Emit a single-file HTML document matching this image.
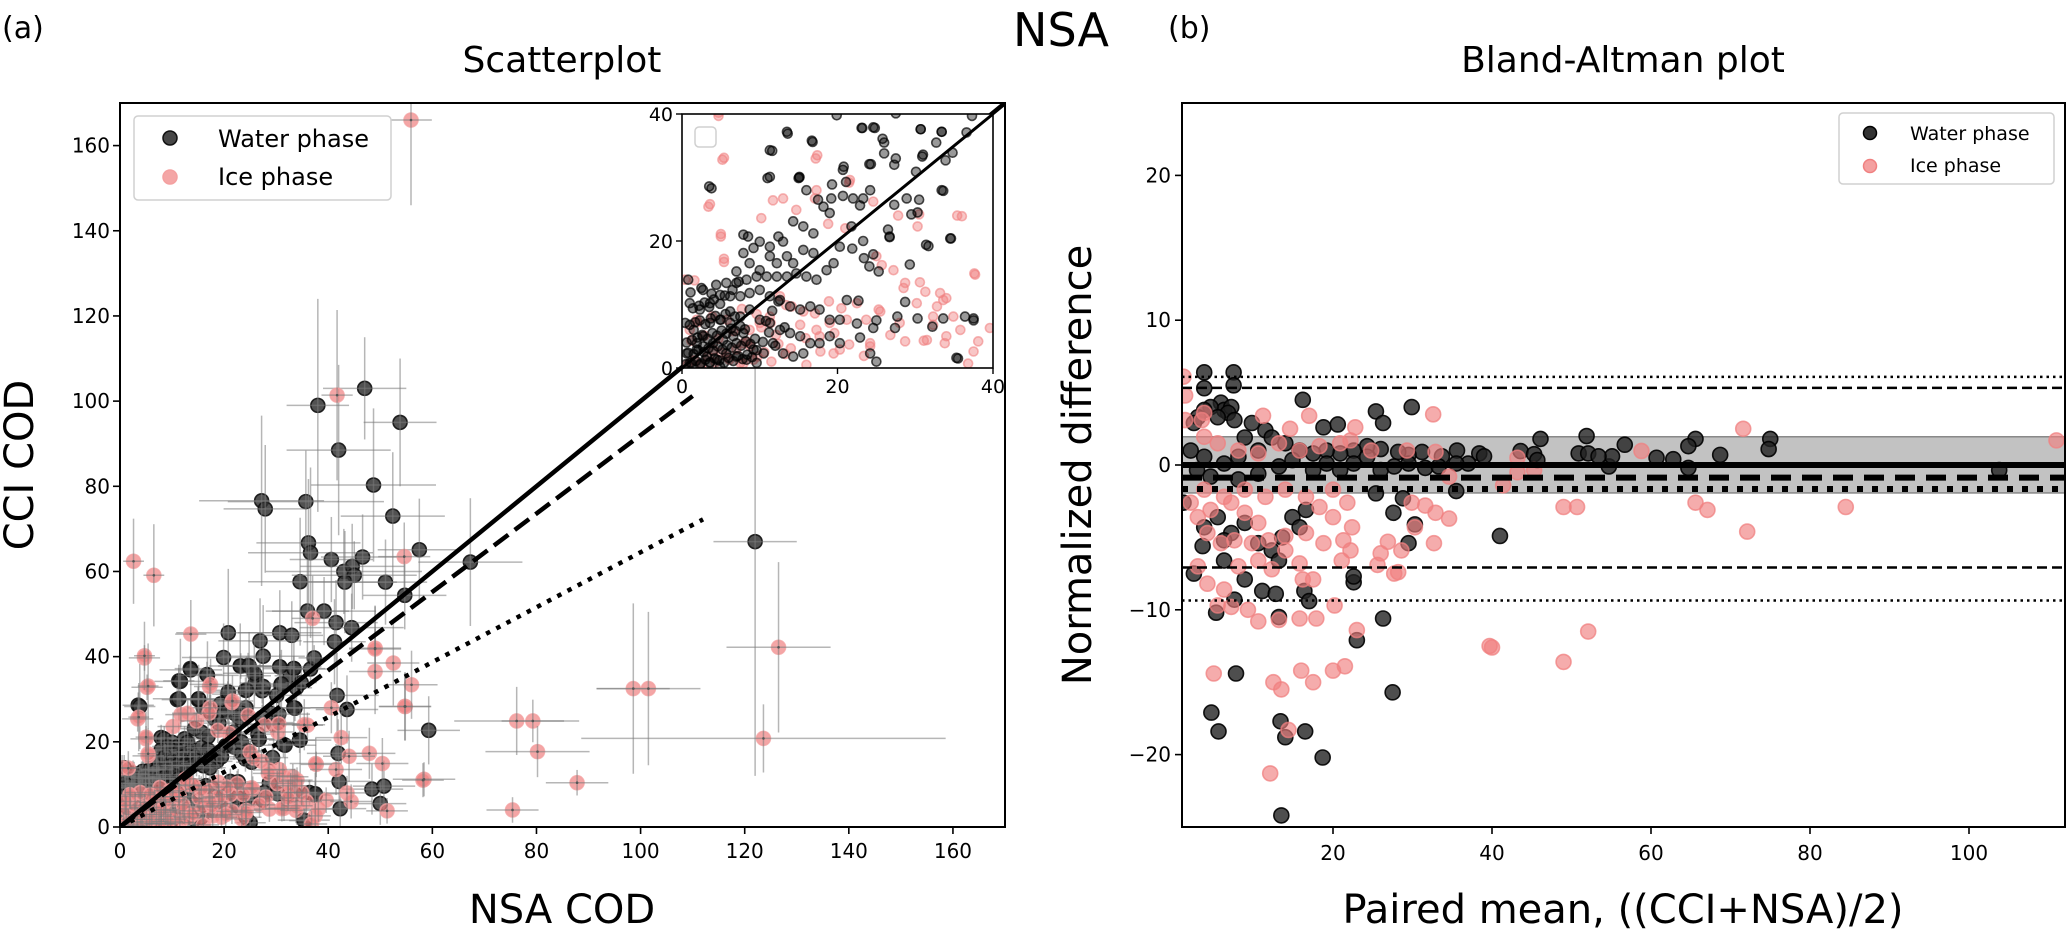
<!DOCTYPE html>
<html><head><meta charset="utf-8"><style>
html,body{margin:0;padding:0;background:#fff;}
svg{display:block;font-family:"DejaVu Sans","Liberation Sans",sans-serif;}
</style></head><body>
<svg id="fig" width="2067" height="931" viewBox="0 0 2067 931" xmlns="http://www.w3.org/2000/svg">
<defs>
<clipPath id="clipMain"><rect x="120" y="103" width="885" height="724"/></clipPath>
<clipPath id="clipInset"><rect x="682" y="114" width="311" height="254"/></clipPath>
<clipPath id="clipBA"><rect x="1182" y="103" width="883" height="724"/></clipPath>
</defs>
<text x="2" y="38" font-size="30">(a)</text>
<text x="1168" y="38" font-size="30">(b)</text>
<text x="1061" y="46" font-size="46" text-anchor="middle">NSA</text>
<text x="562" y="72" font-size="36" text-anchor="middle">Scatterplot</text>
<text x="1623" y="72" font-size="36" text-anchor="middle">Bland-Altman plot</text>
<text x="562" y="923" font-size="40" text-anchor="middle">NSA COD</text>
<text x="1623" y="923" font-size="40" text-anchor="middle">Paired mean, ((CCI+NSA)/2)</text>
<text transform="translate(33,465) rotate(-90)" font-size="40" text-anchor="middle">CCI COD</text>
<text transform="translate(1091,465) rotate(-90)" font-size="40" text-anchor="middle">Normalized difference</text>
<g id="gMain"></g>
<g id="gInset"></g>
<g id="gBA"></g>
</svg>
<script>
// ---- Scatterplot data (main, points with error bars) ----
const mainWaterX=[47,38,42,48.7,53.8,52.4,27.2,27.9,35.7,36.2,36.6,40.6,43,44.6,45,46.6,43.2,57.5,67.3,34.6,51,54.7,36,39.2,41.5,44.5,41.2,20.8,30.7,33,26.9,27.5,19.9,23.1,24.8,13.6,16.8,30.7,33.4,25.8,27.5,11.6,11.3,15.1,41.7,43.6,33.4,20.8,24.3,31,3.8,59.3,34.6,31.7,41.9,42.1,48.4,50.7,50,42.3,37.5,35.3,30.5,29.5,122];
const mainWaterY=[103,99,88.5,80.3,95,73,76.6,74.7,76.4,66.7,64.4,62.8,60,61.2,59.1,63.4,57.5,65.1,62.2,57.6,57.5,54.4,50.7,50.7,48,46.8,43.5,45.6,45.6,45,43.7,40.1,39.8,37.8,37.8,36.9,35.6,37.6,37.2,36.1,33,34.2,30.1,30.1,30.9,27.6,28,31.7,32.1,33.6,28.3,22.7,20.4,19.2,17.3,10.7,8.9,9.6,5.5,4.3,7.8,1.6,26.5,24.2,67];
const mainWaterXErr=[8,6,10,12,7,10,12,8,15,10,12,8,15,10,12,8,10,8,10,10,8,8,8,10,8,10,6,10,8,6,8,8,8,6,6,6,6,8,6,6,6,5,5,5,8,6,6,6,6,6,3,6,6,6,6,6,6,6,5,5,5,5,6,6,8];
const mainWaterYErr=[12,25,20,18,15,15,20,15,12,15,20,10,10,10,8,10,12,12,15,15,10,8,12,8,10,8,10,15,10,8,10,12,8,10,8,10,8,10,8,8,8,10,8,8,10,8,8,8,8,8,10,8,8,8,8,6,6,6,5,5,5,3,8,8,55];
const mainIceX=[2.6,6.5,41.7,54.6,13.6,4.7,5.4,3.6,5,5.4,37,49,49,52.5,56,54.8,58.4,47.9,50.4,42.5,44,41.5,51.3,37.6,43.6,44.4,40.6,35.4,17.4,21.6,1.6,30.5,76.2,79.3,80.2,87.8,75.4,98.6,101.5,123.6,126.5,55.9,58.2,49,54.7];
const mainIceY=[62.4,59.1,101.4,63.5,45.3,40.2,33.1,25.8,21.1,17.2,49,42,36.5,38.5,33.4,28.3,11.2,17.3,14.9,21,16.6,13.5,3.8,14.9,8,6,28,24,33.5,29.6,13.8,24.2,24.9,24.9,17.7,10.4,4,32.5,32.5,20.8,42.2,166,11,41.8,28.3];
const mainIceXErr=[2,2,3,5,3,2,2,2,2,2,4,5,5,5,5,5,6,5,5,5,5,5,4,5,4,4,4,4,4,4,2,4,12,6,10,6,5,7,10,35,10,4,4,5,5];
const mainIceYErr=[10,12,20,8,8,8,10,8,6,6,10,10,10,10,8,8,4,6,6,6,6,6,3,6,4,4,6,6,6,6,4,6,8,5,6,3,3,20,18,8,20,20,4,10,8];
// ---- Low-range cluster (shown in main plot and inset) ----
const clusterWaterX=[13.5,16.7,11.3,3.5,11,15.1,23.2,24.6,26,26,27.3,30.7,33.4,32.7,33.9,34.8,36.6,37.3,30.9,30.1,28.9,30.3,33.6,34.5,31.4,29.3,26.7,27.3,24.2,24.1,20.7,21.1,19.3,19.2,20.7,22,23.3,22.9,21.8,20.3,21.9,23.4,24.1,25.3,24.6,23.3,26.5,26.7,28.7,30.3,33.6,36.4,37.5,32.2,35.5,27.7,27.4,25,24.6,22.9,25,24.2,22.5,21.2,22.7,7.9,8.5,10,11.3,12.4,13,14.3,15.6,16.9,18.2,19,16,17.5,15,7.9,9.2,7,8.7,10,11.3,12.2,13.5,14.3,15.6,16.9,18.6,19.5,5.7,7,8.3,9.6,10.9,12.2,13.5,14.7,16,17.3,2.7,3.6,4.9,2.3,1,0.8,6.2,7.5,8.7,10,11.3,12.6,13.9,15.2,16.5,17.7,19,20.3,3.6,4.9,6.2,7.5,8.7,10,11.3,12.6,13.9,15.2,16.5,17.7,19,20.3,1.5,2.7,4,5.3,6.6,7.9,9.2,10.5,11.7,13,14.3,15.6,0.6,1.9,3.2,4.5,5.7,7,8.3,9.6,1,2.3,3.6,4.9,0.4,1.9,2.7];
const clusterWaterY=[37.2,35.8,34.3,28.6,29.9,30,37.8,37.9,35.5,33.8,32,37.6,37.2,35.5,32.7,33.9,37.1,39.7,33.3,30.9,26.7,24.5,27.9,20.4,19.4,16.3,20.7,25.7,28,32.1,31.2,29.3,28.9,26.7,27.1,26.7,26.7,25.6,22.3,19.1,18.8,17.3,16,15.2,17.9,20,21.8,20.6,10.4,7.8,7.8,8.1,7.5,6.5,1.5,8.1,6.3,7.5,6.3,4.8,1,2.3,7,10.7,10.6,21,20.7,19.9,19.1,20.7,19.9,23.1,22.3,21.2,25.4,24.4,28,26.5,29.9,18.1,18.9,15.2,16.5,15.4,17.6,16.5,17.6,16.5,18.6,18.1,15.4,16.5,13.4,13.4,13.9,14.4,14.4,14.4,14.4,14.9,14.4,13.9,12.3,10.2,11.5,9.2,10.2,13.9,11.3,11.3,11.8,12.3,11.3,10.7,9.7,9.2,9.7,9.2,7.6,7.6,7.1,7.6,7.1,8.1,9.2,7.6,7.1,6,5.5,5,3.9,3.9,5,3.9,6,5,3.9,4.4,5,5.5,2.9,2.3,3.9,2.3,1.8,2.3,2.3,2.9,1.8,1.3,2.3,1.8,1.3,0.8,0.8,0.5,0.8,0.2,7.1,3.9,3.4];
// dense core near the origin
const coreWaterX=[0.5,1.2,1.8,2.4,3,3.6,4.2,4.8,5.4,6,6.6,7.2,7.8,8.4,9,0.8,1.5,2.1,2.8,3.4,4,4.6,5.2,5.8,6.4,7,7.6,8.2,8.8,9.4,0.6,1.3,2,2.6,3.3,3.9,4.5,5.1,5.7,6.3,6.9,7.5,8.1,1,1.7,2.3,3,3.7,4.3,5,5.6,6.2,6.8,1.4,2.2,2.9,3.5,4.1,4.9,5.5,1.1,2.5,3.8,4.4,6.5,7.3,9.6,10.4,11.2,12,10.8,11.6,12.4,13.2];
const coreWaterY=[0.6,0.8,1.1,0.7,1.3,0.9,1.5,1.2,0.8,1.6,1.1,1.9,1.4,2.1,1.7,2.4,2.2,2.8,2.5,3.1,2.7,3.4,2.9,3.6,3.2,3.9,3.5,4.2,3.8,4.6,4,4.4,4.8,5.2,4.6,5.5,5.1,5.9,5.4,6.2,5.8,6.6,6.1,6.8,7.2,7.5,6.9,7.8,8.2,7.6,8.5,8.9,8.1,9.4,9.8,10.3,9.6,10.8,10.1,11.4,11.9,12.6,11.7,13.1,12.3,13.6,2.8,4.1,5.6,3.5,7.4,9,10.5,6.4];
const coreIceX=[0.7,1.6,2.5,3.3,4.3,5.1,6.1,7,7.9,8.8,9.7,10.6,11.5,12.4,13.3,1.2,2.9,4.7,6.6,8.4,10.2,12.1,14,15.9,17.8,19.6,21.5,23.4,2,3.9,5.8,7.7,9.6,11.4,13.4,15.2,17.1,18.9];
const coreIceY=[0.5,1.2,0.4,1.8,0.9,2.4,1.3,2.9,0.7,3.4,1.8,2.5,1,3.8,2.2,4.3,5.1,4.6,5.8,4.1,6.4,5.2,3.1,4.7,2.6,5.5,3.7,1.9,7.2,8.1,7.6,9.3,8.5,7.1,9.9,6.8,8.6,10.5];
const clusterIceX=[4.7,5.2,3.4,5,5.4,10.2,11.7,13,14.7,17.2,17.3,17.1,18.8,21,21.5,24.6,27.8,30.3,36,37.7,30.6,31.3,28.7,28.5,27.2,25.7,25,33.2,33.6,34,32.8,34.9,32.3,30.2,31.5,31.1,28.7,28,25.5,25.3,24.2,24.2,26.8,23.7,22.5,21.2,20.5,19,19.5,20.3,16,17.7,17.3,15.6,14.1,12.6,11.3,10,8.7,7.9,9.2,7.5,5.7,4,1.9,0.4,1,34,33.8,35.8,37.5,38.1,39.6,36.8,32.3];
const clusterIceY=[39.7,32.8,25.4,20.7,16.7,23.6,26.4,26.7,24.9,33,28,26.7,22.7,22,29.2,26.2,24,22.3,23.9,14.7,13.5,12,13.4,12.6,15.4,16.2,17.6,11.8,10.7,11,9.7,8.1,8.1,10.2,4.4,4.3,4.2,7.1,8.9,9.2,3.9,3.4,5.2,7.6,10.2,7.6,9.4,7.1,2.3,2.9,0.5,5,6,8.9,9.7,11.3,8.1,7.1,6,3.9,1.3,0.8,1.8,2.9,7.6,13.9,6,5,3.9,6,2.6,4.2,6.3,0.7,6.8];
// ---- Fit lines (slope, intercept, x extent) ----
const fitSlopes=[1,0.92,0.645];
const fitIntercepts=[0,0,0];
const fitXMax=[170,110,112];
// ---- Axis ticks ----
const mainTicks=[0,20,40,60,80,100,120,140,160];
const insetTicks=[0,20,40];
const baXTicks=[20,40,60,80,100];
const baYTicks=[-20,-10,0,10,20];
// ---- Bland-Altman data ----
const baWaterX=[3.8,7.5,7.5,3.8,16.2,25.4,26.3,29.9,5.9,6.3,7.2,6.8,4.6,5.5,7.6,9.8,11.5,3.8,3,2.5,18.8,20.6,46.1,51.9,56.7,65.6,64.7,75,74.8,68.7,60.7,62.8,54.7,55.1,50.9,52.1,53.4,64.7,103.8,43.6,45.3,45.7,38.4,39,37,35.6,33.7,31.2,29.5,28.2,26,24.3,22.6,20.9,19.2,17.5,12.3,14,15.8,10.6,8.9,8.1,6.3,3.8,2.1,2.9,4.6,8.1,10.6,13.2,14.9,17.5,19.2,20.9,22.6,24.3,26,27.7,29.5,31.6,33.3,35.5,1.2,25.4,28.8,35.5,27.6,30.3,41,29.5,22.6,3.6,2.5,5.3,7.6,6.3,8.9,11.1,12.8,13.2,16.4,17,26.3,22.6,23,14.9,15.8,13.6,16.6,5.5,3.8,7.2,10.6,8.9,12.3,13.2,6.3,4.7,5.6,13.4,14,16.5,18.7,13.5,27.5,7.8];
const baWaterY=[6.4,6.4,5.5,5.3,4.5,3.7,2.9,4,4.3,3.8,4,3.6,4,3.3,3.1,2.9,2.4,3.8,3.3,2.9,2.6,2.8,1.8,2,1.4,1.8,1.3,1.8,1.1,0.7,0.5,0.4,-0.1,0.6,0.8,0.8,0.6,-0.2,-0.35,0.96,0.75,0.34,0.8,0.6,0.1,1,0.6,0.9,0.7,0.9,1.1,1.3,1,0.8,1,0.8,1.9,1.5,1,1,1.9,0.57,0.1,0.57,1,-0.35,-0.8,-1,-0.6,-0.1,0.34,-0.35,0.1,-0.35,0.1,0.57,-0.35,-0.1,0.1,-0.2,-0.1,0.1,-2.6,-1.96,-2.3,-1.8,-3.3,-4.1,-4.9,-5.4,-8.1,-5.6,-7.5,-10.2,-9.3,-6.6,-7.9,-8.7,-8.9,-10.5,-8.7,-9.4,-10.6,-7.7,-12.1,-3.6,-4.3,-5,-3.1,-3.6,-4.3,-4.7,-5.4,-4,-5.9,-6.6,-5.2,-17.1,-18.4,-17.7,-18.8,-18.4,-20.2,-24.2,-15.7,-14.4];
const baIceX=[1.2,1.4,3.5,3.8,1.4,11.2,17,32.6,14.6,22.8,71.6,111,58.8,3.8,5.5,8.1,10.6,13.2,15.8,18.3,20.9,22.2,24.8,29.3,32.9,43.2,45.3,43.2,41.4,34.6,49,50.7,65.6,67.1,84.5,72.1,29.9,31.6,32.9,34.6,30.3,26.9,26,28.6,32.7,25.6,27.7,28.2,21.1,22.2,22.4,21.3,16.2,17.5,15.8,17.9,20.2,23,13.2,10.6,9.3,7.2,5.5,6.3,4.2,3,4.2,5.9,7.6,9.8,11.9,14,10.6,8.9,7.2,4.6,3,2.1,3.8,6.3,8.9,11.5,14,16.6,18.3,20,21.8,20,16.6,14,10.6,8.1,12.3,15.8,18.8,39.7,52.1,49,40,13.5,16,17.5,20,21.5,5,12.5,14.4,12.1];
const baIceY=[6.1,4.8,3.1,3.6,3.1,3.4,3.4,3.5,2.5,2.6,2.5,1.7,0.97,1.95,1.5,1,0.8,1.5,1,1.3,1.5,1.7,1,1,0.9,0.5,-0.35,-0.5,-1.4,-0.8,-2.9,-2.9,-2.6,-3.1,-2.9,-4.6,-2.6,-2.8,-3.3,-3.7,-4.3,-5.3,-6.1,-5.9,-5.4,-6.9,-7.5,-7.4,-6.6,-5.9,-4.3,-5.2,-7.9,-7.9,-10.6,-10.6,-9.7,-11.4,-10.7,-10.8,-10,-9.8,-9.7,-8.6,-8.2,-7,-4.7,-5.4,-5.2,-5.4,-5.2,-4.9,-4,-3.3,-2.6,-3.1,-3.6,-2.6,-1.7,-2.2,-1.7,-2.2,-1.7,-2.2,-2.9,-1.7,-2.6,-3.6,-4.7,-5.9,-6.6,-7,-7.2,-6.8,-5.4,-12.5,-11.5,-13.6,-12.6,-15.5,-14.2,-15,-14.2,-13.9,-14.4,-15,-18.3,-21.3];
const baMeanLines=[0,-0.87,-1.66];
const baLoaDashed=[5.33,-7.08];
const baLoaDotted=[6.09,-9.36];
const baBand=[-1.93,1.95];

const NS='http://www.w3.org/2000/svg';
function mk(tag,attrs,parent){const e=document.createElementNS(NS,tag);for(const k in attrs)e.setAttribute(k,attrs[k]);parent.appendChild(e);return e;}
const mX=v=>120+v*(885/170), mY=v=>827-v*(724/170);
const iX=v=>682+v*(311/40), iY=v=>368-v*(254/40);
const bX=v=>1174+v*7.95, bY=v=>465-v*14.48;

const gMain=document.getElementById('gMain');
const gInset=document.getElementById('gInset');
const gBA=document.getElementById('gBA');

const mainClip=mk('g',{'clip-path':'url(#clipMain)'},gMain);


function errBars(xs,ys,xe,ye,parent,nm){
  for(let i=0;i<xs.length;i++){
    const ex=xe?xe[i]:3, ey=ye?ye[i]:3;
    const h=mk('line',{x1:mX(xs[i]-ex),x2:mX(xs[i]+ex),y1:mY(ys[i]),y2:mY(ys[i]),stroke:'#7a7a7a','stroke-opacity':0.55,'stroke-width':1.5},parent);
    
    
    const v=mk('line',{x1:mX(xs[i]),x2:mX(xs[i]),y1:mY(ys[i]-ey),y2:mY(ys[i]+ey),stroke:'#7a7a7a','stroke-opacity':0.55,'stroke-width':1.5},parent);
    
    
  }
}
function dots(xs,ys,sx,sy,r,fill,fo,stroke,so,parent,nm){
  for(let i=0;i<xs.length;i++){
    const c=mk('circle',{cx:sx(xs[i]),cy:sy(ys[i]),r:r,fill:fill,'fill-opacity':fo,stroke:stroke,'stroke-opacity':so,'stroke-width':1.6},parent);
    
    
  }
}
function centers(xs,ys,parent){
  for(let i=0;i<xs.length;i++){
    const c=mk('circle',{cx:mX(xs[i]),cy:mY(ys[i]),r:1.3,fill:'#555'},parent);
    
    
  }
}
dots(coreWaterX,coreWaterY,mX,mY,7,'#333',0.85,'#111',0.9,mainClip,'water-point');
dots(clusterWaterX,clusterWaterY,mX,mY,7,'#333',0.85,'#111',0.9,mainClip,'water-point');
dots(mainWaterX,mainWaterY,mX,mY,7,'#333',0.85,'#111',0.9,mainClip,'water-point');
errBars(coreWaterX,coreWaterY,null,null,mainClip,'water');
errBars(clusterWaterX,clusterWaterY,null,null,mainClip,'water');
errBars(mainWaterX,mainWaterY,mainWaterXErr,mainWaterYErr,mainClip,'water');
dots(coreIceX,coreIceY,mX,mY,7,'#f08080',0.7,'#f4a0a0',0.8,mainClip,'ice-point');
dots(clusterIceX,clusterIceY,mX,mY,7,'#f08080',0.7,'#f4a0a0',0.8,mainClip,'ice-point');
dots(mainIceX,mainIceY,mX,mY,7,'#f08080',0.7,'#f4a0a0',0.8,mainClip,'ice-point');
errBars(coreIceX,coreIceY,null,null,mainClip,'ice');
errBars(clusterIceX,clusterIceY,null,null,mainClip,'ice');
errBars(mainIceX,mainIceY,mainIceXErr,mainIceYErr,mainClip,'ice');
centers(mainIceX,mainIceY,mainClip);
const fitStyles=[{w:4.5,d:''},{w:4.5,d:'18,8'},{w:4.5,d:'4.5,7'}];
const fitNames=['one-to-one-line','regression-line-dashed','regression-line-dotted'];
for(let k=0;k<fitSlopes.length;k++){
  const ln=mk('line',{x1:mX(0),y1:mY(fitIntercepts[k]),x2:mX(fitXMax[k]),y2:mY(fitIntercepts[k]+fitSlopes[k]*fitXMax[k]),stroke:'#000','stroke-width':fitStyles[k].w,'stroke-dasharray':fitStyles[k].d},mainClip);
  
  
}
const mf=mk('rect',{x:120,y:103,width:885,height:724,fill:'none',stroke:'#000','stroke-width':2},gMain);


for(const t of mainTicks){
  const a=mk('line',{x1:mX(t),x2:mX(t),y1:827,y2:834,stroke:'#000','stroke-width':1.6},gMain);
  
  
  const l=mk('text',{x:mX(t),y:858,'font-size':20,'text-anchor':'middle'},gMain);l.textContent=t;
  
  
  const b=mk('line',{x1:113,x2:120,y1:mY(t),y2:mY(t),stroke:'#000','stroke-width':1.6},gMain);
  
  
  const m=mk('text',{x:110,y:mY(t)+7,'font-size':20,'text-anchor':'end'},gMain);m.textContent=t;
  
  
}
const lg=mk('g',{},gMain);


mk('rect',{x:134,y:116,width:257,height:84,rx:4,fill:'#fff','fill-opacity':0.85,stroke:'#d0d0d0','stroke-width':1.5},lg);
const lw=mk('circle',{cx:170,cy:138,r:7,fill:'#333','fill-opacity':0.9,stroke:'#111','stroke-width':1.5},lg);


const li=mk('circle',{cx:170,cy:177,r:7,fill:'#f08080','fill-opacity':0.7,stroke:'#f4a0a0','stroke-width':1.5},lg);


const lt1=mk('text',{x:218,y:147,'font-size':24},lg);lt1.textContent='Water phase';


const lt2=mk('text',{x:218,y:185,'font-size':24},lg);lt2.textContent='Ice phase';



// ===== Inset =====
mk('rect',{x:682,y:114,width:311,height:254,fill:'#fff'},gInset);
const ic=mk('g',{'clip-path':'url(#clipInset)'},gInset);


dots(coreIceX,coreIceY,iX,iY,4.5,'#f08080',0.45,'#f08080',0.6,ic,'inset-ice-point');
dots(clusterIceX,clusterIceY,iX,iY,4.5,'#f08080',0.45,'#f08080',0.6,ic,'inset-ice-point');
dots(mainIceX,mainIceY,iX,iY,4.5,'#f08080',0.45,'#f08080',0.6,ic,'inset-ice-point');
dots(coreWaterX,coreWaterY,iX,iY,4.5,'#000',0.45,'#000',0.7,ic,'inset-water-point');
dots(clusterWaterX,clusterWaterY,iX,iY,4.5,'#000',0.4,'#000',0.7,ic,'inset-water-point');
dots(mainWaterX,mainWaterY,iX,iY,4.5,'#000',0.4,'#000',0.7,ic,'inset-water-point');
const il=mk('line',{x1:iX(0),y1:iY(0),x2:iX(40),y2:iY(40),stroke:'#000','stroke-width':3},ic);


const ifr=mk('rect',{x:682,y:114,width:311,height:254,fill:'none',stroke:'#000','stroke-width':1.6},gInset);


const ilg=mk('rect',{x:695,y:127,width:21,height:20,rx:4,fill:'#fff',stroke:'#d0d0d0','stroke-width':1.5},gInset);


for(const t of insetTicks){
  const a=mk('line',{x1:iX(t),x2:iX(t),y1:368,y2:374,stroke:'#000','stroke-width':1.4},gInset);
  
  
  const l=mk('text',{x:iX(t),y:393,'font-size':19,'text-anchor':'middle'},gInset);l.textContent=t;
  
  
  const b=mk('line',{x1:676,x2:682,y1:iY(t),y2:iY(t),stroke:'#000','stroke-width':1.4},gInset);
  
  
  const m=mk('text',{x:673,y:iY(t)+7,'font-size':19,'text-anchor':'end'},gInset);m.textContent=t;
  
  
}

// ===== Bland-Altman =====
const bc=mk('g',{'clip-path':'url(#clipBA)'},gBA);


const band=mk('rect',{x:1182,y:bY(baBand[1]),width:883,height:bY(baBand[0])-bY(baBand[1]),fill:'#999','fill-opacity':0.6,stroke:'#888','stroke-width':1.5},bc);


dots(baWaterX,baWaterY,bX,bY,7.5,'#222',0.8,'#000',0.9,bc,'ba-water-point');
dots(baIceX,baIceY,bX,bY,7.5,'#f08080',0.65,'#f08080',0.75,bc,'ba-ice-point');
const meanStyles=[{w:6,d:''},{w:6,d:'20,11'},{w:6,d:'6,9'}];
const meanNames=['ba-zero-line','ba-mean-line','ba-mean-ci-line'];
for(let k=0;k<baMeanLines.length;k++){
  const ln=mk('line',{x1:1182,x2:2065,y1:bY(baMeanLines[k]),y2:bY(baMeanLines[k]),stroke:'#000','stroke-width':meanStyles[k].w,'stroke-dasharray':meanStyles[k].d},bc);
  
  
}
for(const v of baLoaDashed){
  const ln=mk('line',{x1:1182,x2:2065,y1:bY(v),y2:bY(v),stroke:'#000','stroke-width':2.5,'stroke-dasharray':'10,5'},bc);
  
  
}
for(const v of baLoaDotted){
  const ln=mk('line',{x1:1182,x2:2065,y1:bY(v),y2:bY(v),stroke:'#000','stroke-width':2.5,'stroke-dasharray':'2.5,4'},bc);
  
  
}
const bf=mk('rect',{x:1182,y:103,width:883,height:724,fill:'none',stroke:'#000','stroke-width':2},gBA);


for(const t of baXTicks){
  const a=mk('line',{x1:bX(t),x2:bX(t),y1:827,y2:834,stroke:'#000','stroke-width':1.6},gBA);
  
  
  const l=mk('text',{x:bX(t),y:860,'font-size':20,'text-anchor':'middle'},gBA);l.textContent=t;
  
  
}
for(const t of baYTicks){
  const b=mk('line',{x1:1175,x2:1182,y1:bY(t),y2:bY(t),stroke:'#000','stroke-width':1.6},gBA);
  
  
  const m=mk('text',{x:1171,y:bY(t)+7,'font-size':20,'text-anchor':'end'},gBA);m.textContent=(t<0?'\u2212'+(-t):t);
  
  
}
const blg=mk('g',{},gBA);


mk('rect',{x:1839,y:113,width:215,height:71,rx:4,fill:'#fff','fill-opacity':0.85,stroke:'#d0d0d0','stroke-width':1.5},blg);
const bw=mk('circle',{cx:1870,cy:133,r:6.5,fill:'#333',stroke:'#000','stroke-width':1.5},blg);


const bi=mk('circle',{cx:1870,cy:166,r:6.5,fill:'#f4a0a0',stroke:'#f08080','stroke-width':1.5},blg);


const bt1=mk('text',{x:1910,y:140,'font-size':19},blg);bt1.textContent='Water phase';


const bt2=mk('text',{x:1910,y:172,'font-size':19},blg);bt2.textContent='Ice phase';


</script>
</body></html>
